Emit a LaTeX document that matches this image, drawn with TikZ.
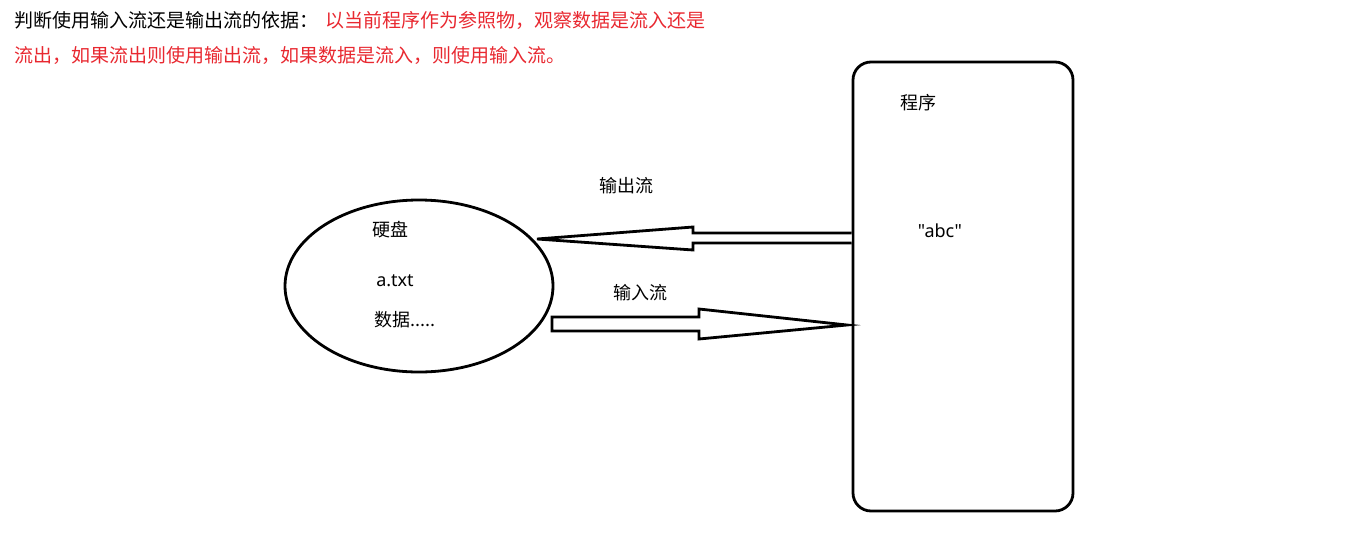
\documentclass[tikz,border=0pt]{standalone}
\usepackage{fontspec}
\setmainfont{Noto Sans CJK SC}
\newfontfamily\latinfont{Noto Sans}
\usetikzlibrary{shapes.geometric}
\definecolor{noteRed}{RGB}{232,40,48}
\begin{document}
\begin{tikzpicture}[x=1pt,y=-1pt,
  lbl/.style={font=\fontsize{18}{20}\selectfont, inner sep=0pt, anchor=center},
  head/.style={font=\fontsize{19}{21}\selectfont, inner sep=0pt, anchor=west},
  shapeline/.style={draw=black, line width=2.8pt},
  blockarrow/.style={draw=black, line width=2.8pt, fill=white, line join=miter}]
\useasboundingbox (0,0) rectangle (1359,541);
% heading
\node[head] (h1) at (14,20) {判断使用输入流还是输出流的依据：\hspace{7pt}\textcolor{noteRed}{以当前程序作为参照物，观察数据是流入还是}};
\node[head, text=noteRed] (h2) at (14,56) {流出，如果流出则使用输出流，如果数据是流入，则使用输入流。};
% program box
\node[shapeline, rounded corners=18pt, minimum width=220pt, minimum height=449pt, inner sep=0pt] (prog) at (963,286.5) {};
\node[lbl] (progl) at (918,103) {程序};
\node[lbl, font=\latinfont\fontsize{18}{20}\selectfont] (abc) at (940,231) {"abc"};
% disk
\node[shapeline, ellipse, minimum width=268pt, minimum height=172pt, inner sep=0pt] (disk) at (419,286) {};
\node[lbl] (diskl) at (390,230) {硬盘};
\node[lbl, font=\latinfont\fontsize{18}{20}\selectfont] (atxt) at (395,281) {a.txt};
\node[lbl] (data) at (405,320) {数据.....};
% output arrow (program -> disk)
\coordinate (o1) at (prog.west |- 0,233);
\coordinate (o2) at (prog.west |- 0,243);
\draw[blockarrow] (o1) -- (693,233) -- (693,227) -- (537,239) -- (693,250) -- (693,243) -- (o2);
\node[lbl] (outl) at (626,186) {输出流};
% input arrow (disk -> program)
\draw[blockarrow] (552,317) -- (699,317) -- (699,309) -- (847,325) -- (699,339) -- (699,331) -- (552,331) -- cycle;
\node[lbl] (inl) at (640,293) {输入流};
\end{tikzpicture}
\end{document}
